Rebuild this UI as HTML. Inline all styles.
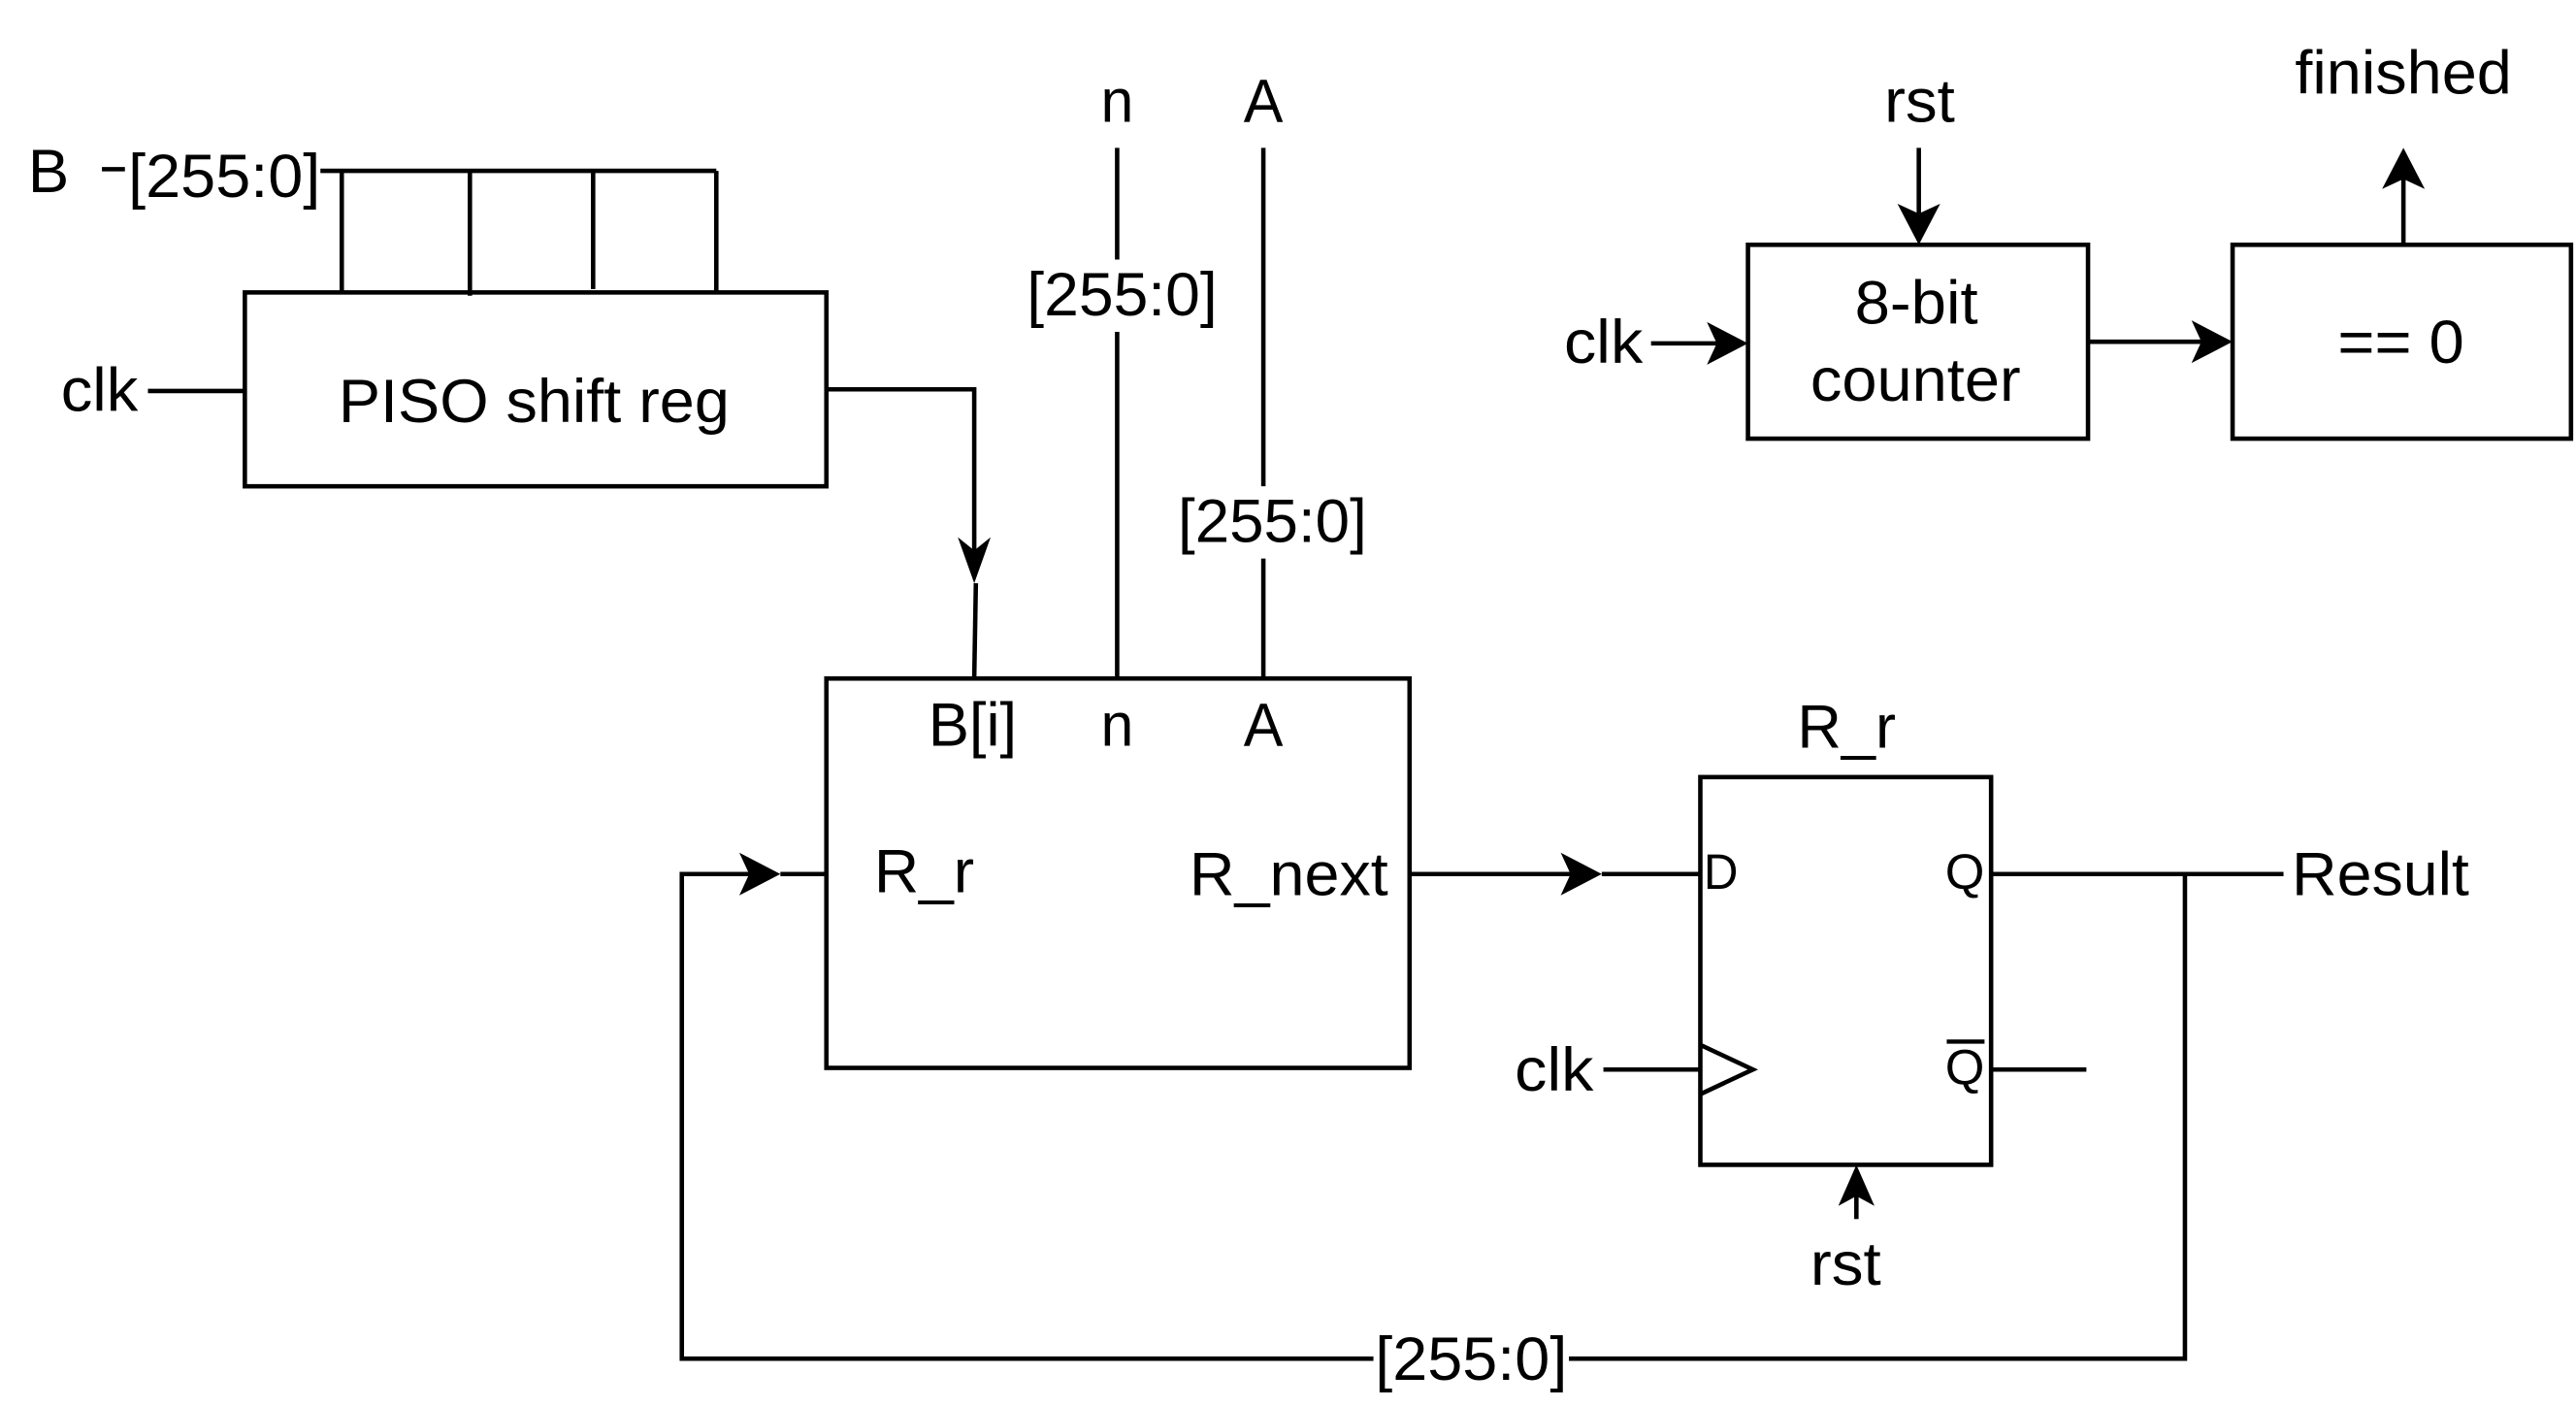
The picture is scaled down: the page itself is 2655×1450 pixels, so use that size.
<!DOCTYPE html>
<html><head><meta charset="utf-8"><style>html,body{margin:0;padding:0;background:#fff}svg{display:block}</style></head>
<body>
<svg width="2655" height="1450" viewBox="0 0 1568 856.4" xmlns="http://www.w3.org/2000/svg" font-family="Liberation Sans, Arial, sans-serif" font-size="37" fill="#000">
<g stroke="#000" stroke-width="2.7" fill="none">
<line x1="62" y1="103" x2="76" y2="103"/>
<line x1="195" y1="104" x2="436" y2="104"/>
<line x1="208" y1="104" x2="208" y2="178"/>
<line x1="286" y1="104" x2="286" y2="180"/>
<line x1="361" y1="104" x2="361" y2="176"/>
<line x1="436" y1="104" x2="436" y2="178"/>
<rect x="149" y="178" width="354" height="118"/>
<line x1="90" y1="238" x2="149" y2="238"/>
<polyline points="503,237 593,237 593,345"/>
<line x1="594" y1="355" x2="593" y2="413"/>
<line x1="680" y1="90" x2="680" y2="158"/>
<line x1="680" y1="202" x2="680" y2="413"/>
<line x1="769" y1="90" x2="769" y2="296"/>
<line x1="769" y1="340" x2="769" y2="413"/>
<rect x="503" y="413" width="355" height="237"/>
<line x1="858" y1="532" x2="965" y2="532"/>
<line x1="975" y1="532" x2="1035" y2="532"/>
<rect x="1035" y="473" width="177" height="236"/>
<polyline points="1035,636 1067,651 1035,666"/>
<line x1="976" y1="651" x2="1035" y2="651"/>
<line x1="1130" y1="720" x2="1130" y2="742"/>
<line x1="1212" y1="532" x2="1390" y2="532"/>
<line x1="1212" y1="651" x2="1270" y2="651"/>
<polyline points="1330,532 1330,827 955,827"/>
<polyline points="836,827 415,827 415,532 465,532"/>
<line x1="475" y1="532" x2="503" y2="532"/>
<rect x="1064" y="149" width="207" height="118"/>
<rect x="1359" y="149" width="206" height="118"/>
<line x1="1005" y1="209" x2="1054" y2="209"/>
<line x1="1168" y1="90" x2="1168" y2="138"/>
<line x1="1271" y1="208" x2="1349" y2="208"/>
<line x1="1463" y1="149" x2="1463" y2="100"/>
</g>
<g stroke="none" fill="#000">
<polygon points="593,355 583,327 593,335 603,327"/>
<polygon points="975,532 950,519 956,532 950,545"/>
<polygon points="475,532 450,519 456,532 450,545"/>
<polygon points="1130,709 1119,734 1130,728 1141,734"/>
<polygon points="1064,209 1039,196 1045,209 1039,222"/>
<polygon points="1168,149 1155,124 1168,130 1181,124"/>
<polygon points="1359,208 1334,195 1340,208 1334,221"/>
<polygon points="1463,90 1450,115 1463,109 1476,115"/>
</g>
<line x1="1185" y1="634" x2="1208" y2="634" stroke="#000" stroke-width="2.6"/>
<text x="17" y="117" textLength="25" lengthAdjust="spacingAndGlyphs">B</text>
<text x="78" y="120" textLength="117" lengthAdjust="spacingAndGlyphs">[255:0]</text>
<text x="37" y="250" textLength="47" lengthAdjust="spacingAndGlyphs">clk</text>
<text x="206" y="257" textLength="238" lengthAdjust="spacingAndGlyphs">PISO shift reg</text>
<text x="670" y="74" textLength="20" lengthAdjust="spacingAndGlyphs">n</text>
<text x="757" y="74" textLength="24" lengthAdjust="spacingAndGlyphs">A</text>
<text x="625" y="192" textLength="116" lengthAdjust="spacingAndGlyphs">[255:0]</text>
<text x="717" y="330" textLength="115" lengthAdjust="spacingAndGlyphs">[255:0]</text>
<text x="565" y="454" textLength="54" lengthAdjust="spacingAndGlyphs">B[i]</text>
<text x="670" y="454" textLength="20" lengthAdjust="spacingAndGlyphs">n</text>
<text x="757" y="454" textLength="24" lengthAdjust="spacingAndGlyphs">A</text>
<text x="532" y="543" textLength="61" lengthAdjust="spacingAndGlyphs">R_r</text>
<text x="724" y="545" textLength="121" lengthAdjust="spacingAndGlyphs">R_next</text>
<text x="1094" y="455" textLength="60" lengthAdjust="spacingAndGlyphs">R_r</text>
<text x="1037" y="541" font-size="30" textLength="21" lengthAdjust="spacingAndGlyphs">D</text>
<text x="1184" y="541" font-size="30" textLength="24" lengthAdjust="spacingAndGlyphs">Q</text>
<text x="1184" y="660" font-size="30" textLength="24" lengthAdjust="spacingAndGlyphs">Q</text>
<text x="922" y="664" textLength="48" lengthAdjust="spacingAndGlyphs">clk</text>
<text x="1102" y="782" textLength="43" lengthAdjust="spacingAndGlyphs">rst</text>
<text x="1395" y="545" textLength="108" lengthAdjust="spacingAndGlyphs">Result</text>
<text x="837" y="840" textLength="117" lengthAdjust="spacingAndGlyphs">[255:0]</text>
<text x="952" y="221" textLength="48" lengthAdjust="spacingAndGlyphs">clk</text>
<text x="1147" y="74" textLength="43" lengthAdjust="spacingAndGlyphs">rst</text>
<text x="1129" y="197" textLength="75" lengthAdjust="spacingAndGlyphs">8-bit</text>
<text x="1102" y="244" textLength="128" lengthAdjust="spacingAndGlyphs">counter</text>
<text x="1423" y="221" textLength="77" lengthAdjust="spacingAndGlyphs">== 0</text>
<text x="1397" y="57" textLength="132" lengthAdjust="spacingAndGlyphs">finished</text>
</svg>
</body></html>
